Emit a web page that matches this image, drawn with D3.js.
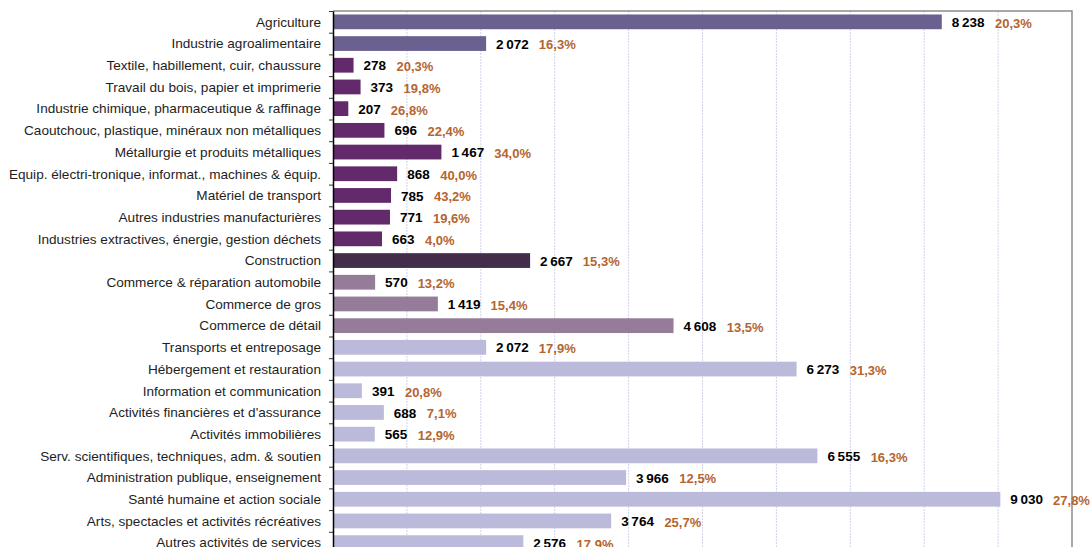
<!DOCTYPE html>
<html>
<head>
<meta charset="utf-8">
<script src="https://cdn.jsdelivr.net/npm/d3@7"></script>
<style>
  body { margin: 0; background: #fff; }
  svg text { font-family: "Liberation Sans", Arial, sans-serif; }
</style>
</head>
<body>
<div id="app"></div>
<script>
const categories = [
  "Agriculture",
  "Industrie agroalimentaire",
  "Textile, habillement, cuir, chaussure",
  "Travail du bois, papier et imprimerie ",
  "Industrie chimique, pharmaceutique & raffinage",
  "Caoutchouc, plastique, minéraux non métalliques",
  "Métallurgie et produits métalliques",
  "Equip. électri-tronique, informat., machines & équip.",
  "Matériel de transport",
  "Autres industries manufacturières",
  "Industries extractives, énergie, gestion déchets",
  "Construction ",
  "Commerce & réparation automobile",
  "Commerce de gros",
  "Commerce de détail",
  "Transports et entreposage ",
  "Hébergement et restauration",
  "Information et communication",
  "Activités financières et d'assurance",
  "Activités immobilières",
  "Serv. scientifiques, techniques, adm. & soutien",
  "Administration publique, enseignement",
  "Santé humaine et action sociale",
  "Arts, spectacles et activités récréatives",
  "Autres activités de services"
];

const values = [8238, 2072, 278, 373, 207, 696, 1467, 868, 785, 771, 663, 2667,
                570, 1419, 4608, 2072, 6273, 391, 688, 565, 6555, 3966, 9030, 3764, 2576];

const shares = [20.3, 16.3, 20.3, 19.8, 26.8, 22.4, 34.0, 40.0, 43.2, 19.6, 4.0, 15.3,
                13.2, 15.4, 13.5, 17.9, 31.3, 20.8, 7.1, 12.9, 16.3, 12.5, 27.8, 25.7, 17.9];

// sector group of each category
const groups = ["agri", "agri", "ind", "ind", "ind", "ind", "ind", "ind", "ind", "ind", "ind", "cons",
                "com", "com", "com", "serv", "serv", "serv", "serv", "serv", "serv", "serv", "serv", "serv", "serv"];

const xTicks = [0, 1000, 2000, 3000, 4000, 5000, 6000, 7000, 8000, 9000, 10000];

const colors = {
  agri: "#6b6190",
  ind: "#62296b",
  cons: "#432d4a",
  com: "#957d9a",
  serv: "#bbbadb"
};

const w = 1091,
      h = 547;
const plotLeft = 333, plotRight = 1072, plotTop = 11, step = 21.7;
const plotBottom = plotTop + step * categories.length;

const svg = d3.select("#app")
  .append("svg")
  .attr("width", w)
  .attr("height", h);

const data = categories.map((c, i) => ({
  cat: c, value: values[i], share: shares[i], group: groups[i]
}));

const xScale = d3.scaleLinear()
  .domain([0, 10000])
  .range([plotLeft, plotRight]);

const yScale = d3.scaleBand()
  .domain(categories)
  .range([plotTop, plotBottom])
  .paddingInner(0.32)
  .paddingOuter(0.16);

// gridlines
svg.append("g")
  .selectAll("line")
  .data(xTicks.slice(1, -1))
  .enter()
  .append("line")
  .attr("x1", d => xScale(d))
  .attr("x2", d => xScale(d))
  .attr("y1", plotTop)
  .attr("y2", plotBottom)
  .attr("stroke", "#d2d2ea")
  .attr("stroke-width", 1)
  .attr("stroke-dasharray", "2,1");

// plot frame (top and right)
svg.append("path")
  .attr("d", `M${plotLeft},${plotTop}H${xScale(10000)}V${plotBottom}`)
  .attr("fill", "none")
  .attr("stroke", "#8c8c8c")
  .attr("stroke-width", 1.5);

// bars
svg.selectAll(".bar")
  .data(data)
  .enter()
  .append("rect")
  .attr("class", "bar")
  .attr("x", xScale(0))
  .attr("y", d => yScale(d.cat))
  .attr("width", d => xScale(d.value) - xScale(0))
  .attr("height", yScale.bandwidth())
  .attr("fill", d => colors[d.group]);

// left axis: ticks between categories
const edgeScale = d3.scaleLinear()
  .domain([0, categories.length])
  .range([plotTop, plotBottom]);

const yAxis = d3.axisLeft(edgeScale)
  .tickValues(d3.range(0, categories.length + 1))
  .tickSize(4)
  .tickSizeOuter(0)
  .tickFormat("");

svg.append("g")
  .attr("transform", `translate(${plotLeft}, 0)`)
  .call(yAxis)
  .call(g => g.select(".domain").attr("stroke", "#000").attr("stroke-width", 1.5))
  .call(g => g.selectAll(".tick line").attr("stroke", "#333"));

// category labels
svg.selectAll(".cat")
  .data(data)
  .enter()
  .append("text")
  .attr("class", "cat")
  .attr("text-anchor", "end")
  .attr("x", plotLeft - 12)
  .attr("y", d => yScale(d.cat) + yScale.bandwidth() / 2)
  .attr("dy", "0.35em")
  .attr("font-size", "13.6px")
  .attr("fill", "#1e1e1e")
  .text(d => d.cat);

const fmtNum = v => d3.format(",")(v).replace(",", "\u2009");
const fmtPct = v => d3.format(".1f")(v).replace(".", ",") + "%";

// value labels
const valueLabels = svg.selectAll(".val")
  .data(data)
  .enter()
  .append("text")
  .attr("class", "val")
  .attr("x", d => xScale(d.value) + 10)
  .attr("y", d => yScale(d.cat) + yScale.bandwidth() / 2)
  .attr("dy", "0.38em")
  .attr("font-size", "13.5px")
  .attr("font-weight", "bold")
  .attr("fill", "#000")
  .text(d => fmtNum(d.value));

// share labels, placed after each value label
valueLabels.each(function (d) {
  const bb = this.getBBox();
  svg.append("text")
    .attr("class", "pct")
    .attr("x", bb.x + bb.width + 10)
    .attr("y", yScale(d.cat) + yScale.bandwidth() / 2 + 1)
    .attr("dy", "0.38em")
    .attr("font-size", "13px")
    .attr("font-weight", "bold")
    .attr("fill", "#b5652f")
    .text(fmtPct(d.share));
});
</script>
</body>
</html>
